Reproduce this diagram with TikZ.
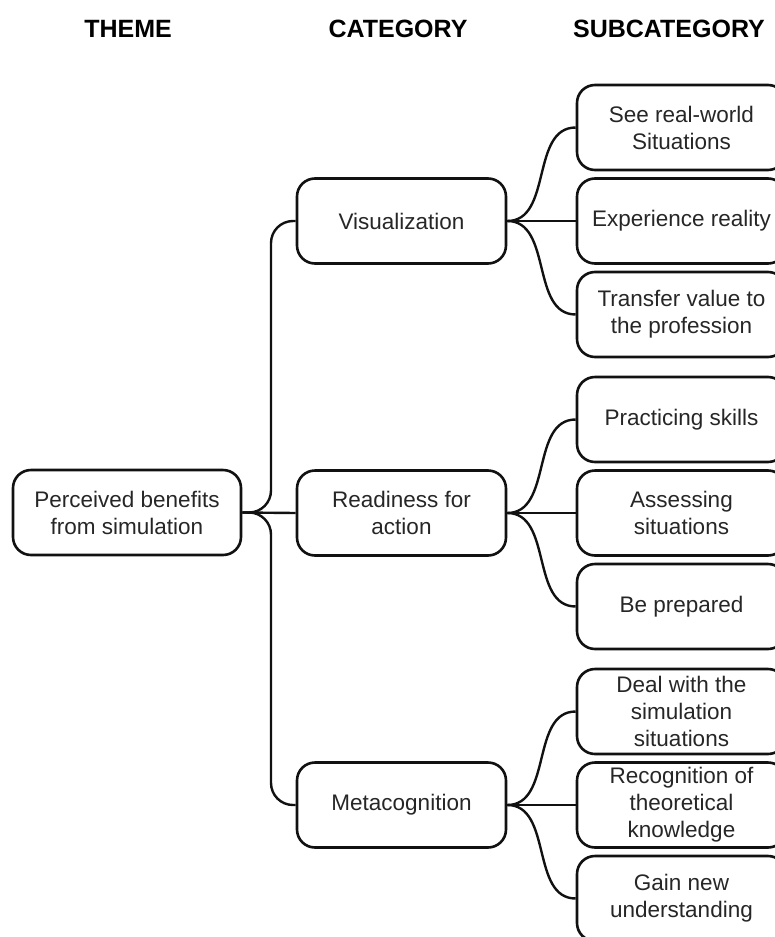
\documentclass[tikz,border=0pt]{standalone}
\usepackage{fontspec}
\setmainfont{Liberation Sans}
\usetikzlibrary{positioning}
\definecolor{cink}{HTML}{111111}
\definecolor{ctext}{HTML}{262626}
\tikzset{
  every picture/.style={line width=2.6pt, x=1pt, y=-1pt},
  box/.style={draw=cink, rounded corners=18pt, align=center, minimum width=#1, minimum height=85pt, inner sep=3pt, text=ctext, font=\fontsize{22.5}{27}\selectfont},
  box/.default=209pt,
  head/.style={text=black, font=\fontsize{25}{30}\selectfont\bfseries},
  link/.style={draw=cink, line width=2.4pt},
  trunk/.style={link, rounded corners=22pt},
}

\begin{document}
\begin{tikzpicture}
  \useasboundingbox (0,0) rectangle (775,937);
  % column titles
  \node[head] (hTheme) at (128,29) {THEME};
  \node[head] (hCat) at (398,29) {CATEGORY};
  \node[head] (hSub) at (669,29) {SUBCATEGORY};

  % theme
  \node[box=228pt] (theme) at (127,512.5) {Perceived benefits\\from simulation};

  % categories with their three subcategories each
  \foreach \i/\y/\cat/\subA/\subB/\subC in {
      1/221/Visualization/See real-world\\Situations/Experience reality/Transfer value to\\the profession,
      2/513/Readiness for\\action/Practicing skills/Assessing\\situations/Be prepared,
      3/805/Metacognition/Deal with the\\simulation\\situations/Recognition of\\theoretical\\knowledge/Gain new\\understanding} {
    \node[box] (cat\i) at (401.5,\y) {\cat};
    \node[box] (sub\i a) at (681.5,\y-93.5) {\subA};
    \node[box] (sub\i b) at (681.5,\y) {\subB};
    \node[box] (sub\i c) at (681.5,\y+93.5) {\subC};
    \draw[link] (cat\i.east) to[out=0,in=180] (sub\i a.west);
    \draw[link] (cat\i.east) -- (sub\i b.west);
    \draw[link] (cat\i.east) to[out=0,in=180] (sub\i c.west);
  }

  % theme to categories
  \coordinate (split) at (271,512.5);
  \draw[trunk] (theme.east) -- (split) |- (cat1.west);
  \draw[link] (theme.east) -- (cat2.west);
  \draw[trunk] (theme.east) -- (split) |- (cat3.west);
\end{tikzpicture}
\end{document}
